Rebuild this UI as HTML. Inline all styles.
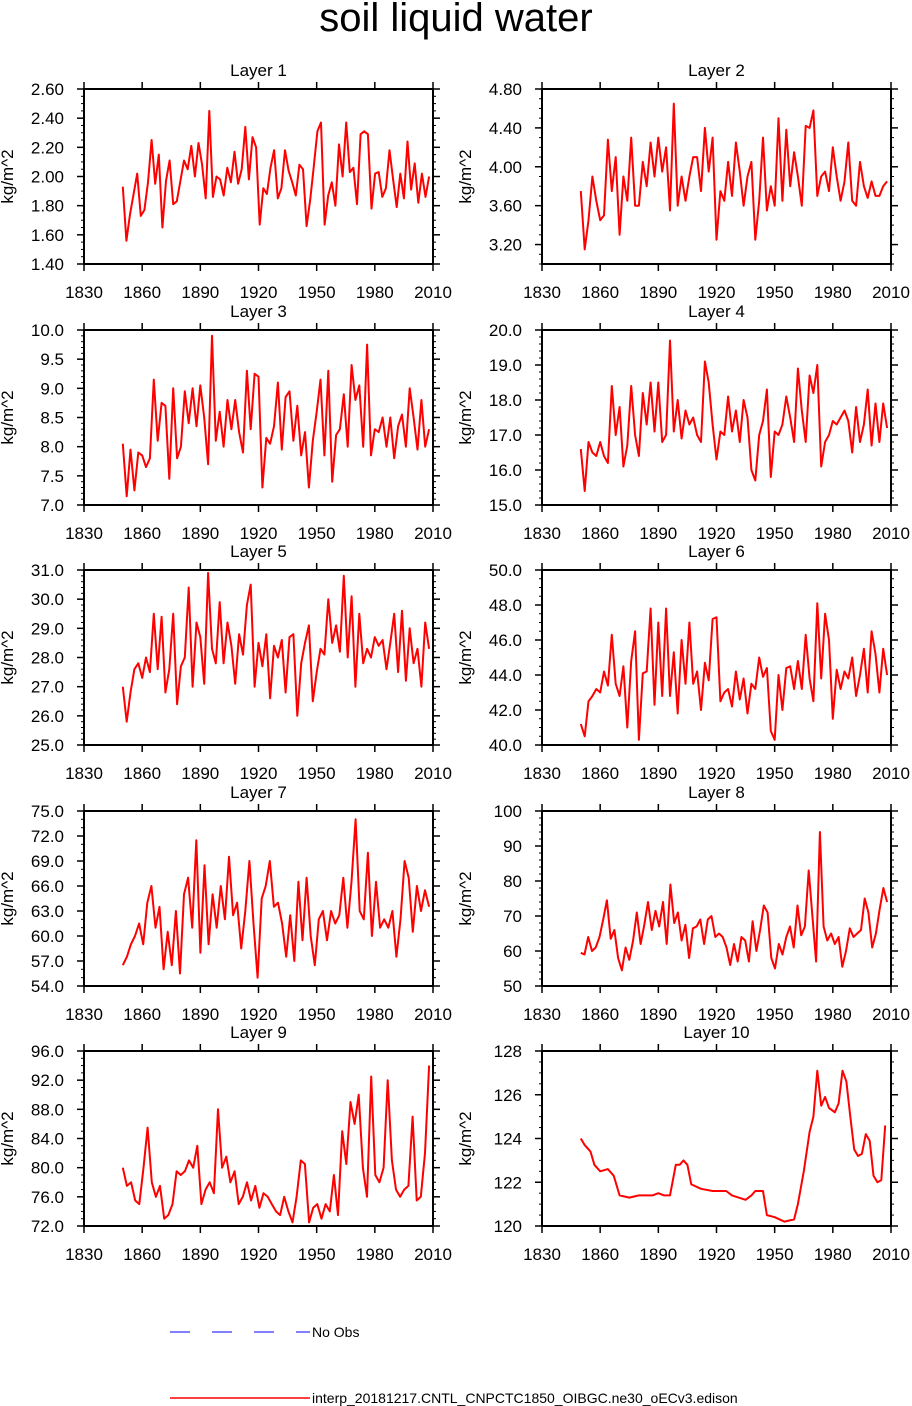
<!DOCTYPE html>
<html><head><meta charset="utf-8"><style>
html,body{margin:0;padding:0;background:#fff;}
svg{display:block;font-family:"Liberation Sans",Arial,sans-serif;}
</style></head><body>
<svg id="chart" width="912" height="1406" viewBox="0 0 912 1406">
<text x="456" y="31" text-anchor="middle" font-size="40">soil liquid water</text>
<g>
<line x1="170" y1="1332" x2="310" y2="1332" stroke="#0000ff" stroke-width="1" stroke-dasharray="20,22"/>
<text x="312" y="1337" font-size="14">No Obs</text>
<line x1="170" y1="1398" x2="310" y2="1398" stroke="#ff0000" stroke-width="1.5"/>
<text x="312" y="1403" font-size="14">interp_20181217.CNTL_CNPCTC1850_OIBGC.ne30_oECv3.edison</text>
</g>
</svg>
<script>
const xTicks=[1830,1860,1890,1920,1950,1980,2010];
const L1=[1.93,1.56,1.74,1.88,2.02,1.73,1.77,1.96,2.25,1.95,2.15,1.65,1.97,2.11,1.81,1.83,1.97,2.11,2.05,2.21,2.0,2.23,2.08,1.85,2.45,1.86,2.0,1.98,1.87,2.06,1.96,2.17,1.95,2.05,2.34,1.98,2.27,2.2,1.67,1.92,1.88,2.06,2.18,1.85,1.92,2.18,2.04,1.96,1.87,2.08,2.05,1.66,1.84,2.07,2.31,2.37,1.67,1.87,1.96,1.80,2.22,2.0,2.37,2.03,2.06,1.81,2.29,2.31,2.29,1.78,2.02,2.03,1.86,1.92,2.18,1.98,1.79,2.02,1.85,2.24,1.91,2.09,1.82,2.02,1.86,2.0];
const L2=[3.75,3.15,3.45,3.9,3.65,3.45,3.5,4.28,3.75,4.1,3.3,3.9,3.65,4.3,3.6,3.6,4.05,3.8,4.25,3.9,4.3,3.95,4.2,3.55,4.65,3.6,3.9,3.65,3.9,4.1,4.1,3.75,4.4,3.95,4.3,3.25,3.75,3.65,4.05,3.7,4.25,3.95,3.6,3.9,4.05,3.25,3.65,4.3,3.55,3.8,3.6,4.5,3.65,4.38,3.8,4.15,3.9,3.6,4.42,4.4,4.58,3.7,3.9,3.95,3.75,4.2,3.9,3.65,3.85,4.25,3.65,3.6,4.05,3.8,3.68,3.85,3.7,3.7,3.8,3.85];
const L3=[8.05,7.15,7.95,7.25,7.9,7.85,7.65,7.8,9.15,8.1,8.75,8.7,7.45,9.0,7.8,8.0,8.95,8.4,9.0,8.35,9.05,8.5,7.7,9.9,8.1,8.6,8.0,8.8,8.3,8.8,8.25,7.9,9.3,8.3,9.25,9.2,7.3,8.15,8.05,8.35,9.1,7.95,8.85,8.95,8.1,8.7,7.85,8.25,7.3,8.1,8.6,9.15,7.85,9.3,7.4,8.2,8.3,8.9,8.0,9.4,8.8,9.05,8.0,9.75,7.85,8.3,8.25,8.5,8.0,8.5,7.8,8.35,8.55,8.0,9.0,8.5,7.95,8.8,8.0,8.3];
const L4=[16.6,15.4,16.8,16.5,16.4,16.8,16.4,16.2,18.4,17.0,17.8,16.1,16.7,18.4,17.0,16.4,18.2,17.3,18.5,17.1,18.5,16.8,17.0,19.7,17.1,18.0,16.9,17.7,17.3,17.5,17.0,16.8,19.1,18.5,17.3,16.3,17.1,17.0,18.1,17.1,17.7,16.8,18.0,17.5,16.0,15.7,17.0,17.4,18.3,15.8,17.1,17.0,17.3,18.1,17.5,16.8,18.9,17.7,16.8,18.7,18.2,19.0,16.1,16.8,17.0,17.4,17.3,17.5,17.7,17.4,16.5,17.8,16.8,17.3,18.3,16.7,17.9,16.8,17.9,17.2];
const L5=[27.0,25.8,26.8,27.6,27.8,27.3,28.0,27.5,29.5,27.6,29.4,26.8,27.6,29.5,26.4,27.7,28.0,30.4,27.0,29.2,28.7,27.1,30.9,28.3,27.8,29.9,27.8,29.2,28.4,27.1,28.8,28.1,29.8,30.5,27.0,28.5,27.7,28.8,26.6,28.4,28.0,28.6,26.8,28.7,28.8,26.0,27.8,28.5,29.1,26.5,27.5,28.3,28.1,30.0,28.5,29.1,28.2,30.8,28.0,30.1,27.0,29.5,27.8,28.3,28.0,28.7,28.4,28.6,27.6,28.5,29.5,27.5,29.6,27.2,29.0,27.8,28.3,27.0,29.2,28.3];
const L6=[41.2,40.5,42.5,42.8,43.2,43.0,44.2,43.4,46.3,43.5,42.8,44.5,41.0,44.8,46.5,40.3,44.1,44.2,47.8,42.3,47.0,42.8,47.8,42.8,45.3,41.8,46.0,43.5,47.0,43.5,44.2,42.0,44.7,43.7,47.2,47.3,42.5,43.0,43.2,42.2,44.2,42.6,43.8,41.8,43.5,43.2,45.0,43.9,44.4,40.8,40.3,44.0,42.0,44.4,44.5,43.2,44.8,43.2,46.3,43.8,42.5,48.1,43.8,47.5,46.0,41.5,44.3,43.2,44.2,43.8,45.0,42.8,44.0,45.5,43.0,46.5,45.2,43.0,45.5,44.0];
const L7=[56.5,57.5,59.0,60.0,61.5,59.0,64.0,66.0,61.0,63.5,56.0,60.5,56.5,63.0,55.5,65.0,67.0,61.0,71.5,58.0,68.5,59.0,65.0,61.0,66.0,62.0,69.5,62.5,64.0,58.5,63.0,69.0,61.5,55.0,64.5,66.0,69.0,63.5,64.0,61.5,57.5,62.5,57.0,66.5,59.5,67.0,60.0,56.5,62.0,63.0,59.5,63.0,61.5,62.5,67.0,61.0,66.5,74.0,63.0,62.0,70.0,60.0,66.5,61.0,62.0,61.0,63.0,57.5,62.0,69.0,67.0,60.5,66.0,63.0,65.5,63.5];
const L8=[59.5,59,64,60,61,64,69,74.5,63.5,66,58,54.5,61,57.5,63,71,62,67.5,74,66,71.5,67,74,62,79,68,71,63,67.5,58,66.5,67,69,62,69,70,64,65,64,61,56,62,57,64,63,57,68.5,60,66,73,71,58,55,62,59,64,67,61,73,64.5,67,83,70,57,94,67,63,65,62,64,55.5,60,66.5,64,65,66,75,71,61,65,72,78,74];
const L9=[80,77.5,78,75.5,75,80,85.5,78,76,77.5,73,73.5,75,79.5,79,79.5,81,80,83,75,77,78,76.5,88,80,81.5,78,79.5,75,76,78,75.5,77.5,74.5,76.5,76,75,74,73.5,76,74,72.5,76,81,80.5,72.5,74.5,75,73,75,74,79,73.5,85,80.5,89,86,90,80,76,92.5,79,78,80,92,81,77,76,77,77.5,87,75.5,76,82,94];
const L10years=[1850,1852,1855,1857,1860,1864,1867,1870,1875,1880,1887,1890,1893,1896,1899,1901,1903,1905,1907,1912,1918,1925,1928,1935,1938,1940,1942,1944,1946,1950,1955,1960,1962,1965,1968,1970,1972,1974,1976,1978,1981,1983,1985,1987,1989,1991,1993,1995,1997,1999,2001,2003,2005,2007];
const L10=[124,123.7,123.4,122.8,122.5,122.6,122.3,121.4,121.3,121.4,121.4,121.5,121.4,121.4,122.8,122.8,123.0,122.8,121.9,121.7,121.6,121.6,121.4,121.2,121.4,121.6,121.6,121.6,120.5,120.4,120.2,120.3,121.0,122.5,124.3,125.0,127.1,125.5,125.9,125.4,125.2,125.6,127.1,126.6,125.0,123.5,123.2,123.3,124.2,123.9,122.3,122.0,122.1,124.6];
const panels=[
 {t:'Layer 1',d:L1,min:1.4,max:2.6,ticks:[1.4,1.6,1.8,2.0,2.2,2.4,2.6],dec:2,minor:4},
 {t:'Layer 2',d:L2,min:3.0,max:4.8,ticks:[3.2,3.6,4.0,4.4,4.8],dec:2,minor:4},
 {t:'Layer 3',d:L3,min:7,max:10,ticks:[7,7.5,8,8.5,9,9.5,10],dec:1,minor:5},
 {t:'Layer 4',d:L4,min:15,max:20,ticks:[15,16,17,18,19,20],dec:1,minor:5},
 {t:'Layer 5',d:L5,min:25,max:31,ticks:[25,26,27,28,29,30,31],dec:1,minor:5},
 {t:'Layer 6',d:L6,min:40,max:50,ticks:[40,42,44,46,48,50],dec:1,minor:4},
 {t:'Layer 7',d:L7,min:54,max:75,ticks:[54,57,60,63,66,69,72,75],dec:1,minor:3},
 {t:'Layer 8',d:L8,min:50,max:100,ticks:[50,60,70,80,90,100],dec:0,minor:5},
 {t:'Layer 9',d:L9,min:72,max:96,ticks:[72,76,80,84,88,92,96],dec:1,minor:4},
 {t:'Layer 10',d:L10,yrs:L10years,min:120,max:128,ticks:[120,122,124,126,128],dec:0,minor:4}
];
const NS='http://www.w3.org/2000/svg';
const svg=document.getElementById('chart');
function mk(tag,at,parent){const e=document.createElementNS(NS,tag);for(const k in at)e.setAttribute(k,at[k]);parent.appendChild(e);return e;}
const tops=[89,330,570,811,1051],H=175,W=349,lefts=[84,542];
panels.forEach((p,i)=>{
 const x0=lefts[i%2],y0=tops[Math.floor(i/2)];
 const g=mk('g',{},svg);
 
 
 const xs=v=>x0+(v-1830)/180*W;
 const ys=v=>y0+H-(v-p.min)/(p.max-p.min)*H;
 const tt=mk('text',{x:x0+W/2,y:y0-13,'text-anchor':'middle','font-size':17},g);
 tt.textContent=p.t;
 
 
 const yl=mk('text',{transform:`translate(${x0-71},${y0+H/2}) rotate(-90)`,'text-anchor':'middle','font-size':17},g);
 yl.textContent='kg/m^2';
 
 
 xTicks.forEach((v,k)=>{
  const x=xs(v);
  mk('line',{x1:x,y1:y0+H,x2:x,y2:y0+H+7,stroke:'#000','stroke-width':1.5},g);
  mk('line',{x1:x,y1:y0,x2:x,y2:y0-7,stroke:'#000','stroke-width':1.5},g);
  const t=mk('text',{x:x,y:y0+H+34,'text-anchor':'middle','font-size':17},g);
  t.textContent=v;
  
  
 });
 const step=p.ticks[1]-p.ticks[0];
 for(let v=p.min;v<=p.max+1e-9;v+=step/p.minor){
  const y=ys(v);
  mk('line',{x1:x0,y1:y,x2:x0-3,y2:y,stroke:'#000','stroke-width':1},g);
  mk('line',{x1:x0+W,y1:y,x2:x0+W+3,y2:y,stroke:'#000','stroke-width':1},g);
 }
 p.ticks.forEach(v=>{
  const y=ys(v);
  mk('line',{x1:x0,y1:y,x2:x0-7,y2:y,stroke:'#000','stroke-width':1.5},g);
  mk('line',{x1:x0+W,y1:y,x2:x0+W+7,y2:y,stroke:'#000','stroke-width':1.5},g);
  const t=mk('text',{x:x0-20,y:y+6,'text-anchor':'end','font-size':17},g);
  t.textContent=v.toFixed(p.dec);
  
  
 });
 const r=mk('rect',{x:x0,y:y0,width:W,height:H,fill:'none',stroke:'#000','stroke-width':2},g);
 
 
 const n=p.d.length;
 const pts=p.d.map((v,k)=>{const yr=p.yrs?p.yrs[k]:1850+k*158/(n-1);return xs(yr).toFixed(1)+','+ys(v).toFixed(1);}).join(' ');
 const pl=mk('polyline',{points:pts,fill:'none',stroke:'#ff0000','stroke-width':2,'stroke-linejoin':'round'},g);
 
 
});
</script>
</body></html>
